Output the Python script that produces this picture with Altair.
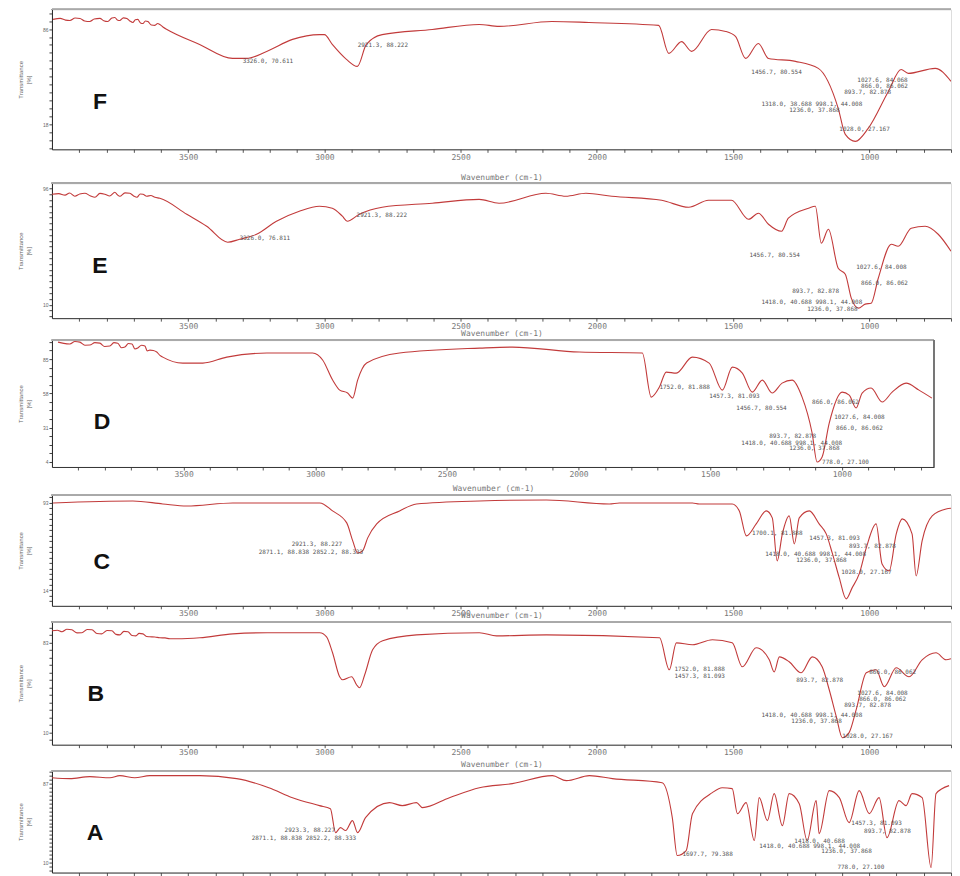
import altair as alt
import pandas as pd

# ---------------- data (wavenumber cm-1, transmittance) ----------------
F_w = [3996, 3970, 3950, 3934, 3915, 3897, 3880, 3861, 3845, 3824, 3810, 3795, 3780, 3769, 3760, 3751, 3738, 3725, 3714, 3703, 3694, 3685, 3675, 3666, 3657, 3648, 3635, 3622, 3612, 3604, 3590, 3578, 3458, 3337, 3286, 3212, 3117, 3018, 3000, 2971, 2919, 2879, 2846, 2788, 2604, 2432, 2359, 2165, 2029, 1773, 1736, 1689, 1652, 1579, 1527, 1491, 1454, 1407, 1370, 1271, 1187, 1114, 1088, 1051, 1004, 930, 883, 857, 758, 700]
F_t = [92.9, 93.6, 92.4, 92.1, 93.9, 93.6, 91.8, 91.4, 93.2, 93.6, 92.0, 91.4, 93.9, 94.3, 92.5, 92.1, 94.0, 93.6, 91.8, 90.7, 92.6, 92.9, 90.4, 90.0, 91.8, 91.4, 88.9, 88.6, 90.0, 89.3, 87.1, 85.7, 75.0, 65.0, 65.0, 70.0, 78.6, 82.0, 82.0, 75.0, 64.3, 59.3, 75.0, 82.0, 85.7, 89.3, 87.9, 91.4, 90.7, 88.6, 68.6, 77.0, 70.0, 85.7, 84.3, 80.7, 65.0, 75.7, 65.0, 62.9, 57.9, 29.3, 10.7, 5.7, 15.0, 41.4, 57.1, 54.3, 57.9, 48.6]

E_w = [4000, 3975, 3952, 3935, 3916, 3898, 3879, 3860, 3842, 3824, 3806, 3788, 3769, 3760, 3751, 3732, 3714, 3700, 3688, 3676, 3666, 3652, 3637, 3622, 3604, 3505, 3432, 3355, 3311, 3249, 3176, 3092, 3018, 2971, 2934, 2916, 2872, 2788, 2604, 2432, 2359, 2187, 2114, 2040, 1945, 1762, 1663, 1590, 1506, 1443, 1407, 1370, 1322, 1297, 1223, 1198, 1176, 1150, 1114, 1088, 1066, 1040, 1015, 993, 967, 919, 894, 846, 795, 747, 700]
E_t = [91.9, 92.3, 91.2, 92.8, 90.4, 92.0, 92.6, 90.8, 89.6, 92.5, 91.9, 90.6, 93.3, 91.5, 90.4, 92.9, 92.6, 90.6, 89.6, 92.1, 91.9, 90.4, 90.9, 89.6, 88.9, 77.0, 68.1, 56.3, 58.5, 62.2, 71.9, 79.3, 83.0, 81.5, 75.6, 71.9, 77.0, 82.2, 85.2, 88.1, 85.2, 92.6, 90.4, 92.6, 90.4, 87.4, 82.2, 87.4, 87.4, 73.3, 77.8, 69.6, 64.4, 74.1, 81.5, 83.0, 55.6, 65.9, 37.0, 32.6, 14.8, 7.4, 10.4, 11.1, 29.6, 54.8, 53.3, 66.7, 68.1, 62.2, 49.6]

D_w = [3977, 3955, 3932, 3913, 3894, 3875, 3856, 3837, 3818, 3800, 3780, 3765, 3750, 3736, 3723, 3710, 3696, 3685, 3674, 3660, 3647, 3638, 3628, 3615, 3602, 3590, 3579, 3503, 3427, 3336, 3184, 3010, 2972, 2934, 2907, 2877, 2858, 2839, 2805, 2680, 2376, 2251, 1997, 1758, 1724, 1693, 1667, 1629, 1568, 1504, 1454, 1416, 1378, 1340, 1302, 1265, 1227, 1189, 1151, 1113, 1094, 1075, 1048, 999, 972, 946, 923, 889, 847, 809, 756, 707, 658]
D_t = [98.4, 97.4, 97.0, 98.9, 98.4, 96.0, 96.1, 98.0, 97.6, 95.0, 95.3, 98.0, 97.6, 94.0, 94.5, 97.3, 96.9, 93.0, 93.7, 96.0, 95.3, 91.5, 92.1, 91.8, 90.6, 88.0, 86.6, 81.9, 81.9, 86.6, 89.8, 89.8, 84.3, 68.5, 60.6, 58.3, 54.3, 68.5, 81.9, 89.8, 93.7, 94.5, 90.6, 89.8, 55.1, 63.0, 74.8, 74.0, 86.6, 81.9, 60.6, 78.7, 74.0, 59.0, 68.5, 58.3, 66.1, 68.5, 55.1, 26.8, 3.9, 7.9, 34.6, 59.0, 56.7, 46.5, 58.3, 62.2, 51.2, 59.0, 66.1, 60.6, 54.3]

C_w = [3996, 3703, 3593, 3505, 3336, 3017, 2970, 2918, 2896, 2878, 2860, 2841, 2808, 2724, 2662, 2431, 2185, 1954, 1917, 1649, 1624, 1503, 1477, 1451, 1415, 1378, 1356, 1338, 1319, 1294, 1275, 1257, 1220, 1184, 1158, 1136, 1110, 1085, 1063, 1037, 1011, 975, 953, 927, 901, 879, 843, 828, 806, 769, 718, 700]
C_t = [92.8, 94.6, 91.9, 90.1, 92.8, 92.8, 85.6, 74.8, 58.6, 47.7, 49.5, 61.3, 73.9, 85.6, 91.9, 94.6, 95.5, 91.9, 92.8, 92.8, 91.9, 91.9, 85.6, 63.1, 73.9, 85.6, 79.3, 40.5, 64.9, 81.1, 55.9, 79.3, 85.6, 73.9, 64.9, 47.7, 25.2, 6.3, 16.2, 28.8, 52.3, 73.9, 37.8, 31.5, 64.9, 78.4, 64.9, 27.0, 58.6, 81.1, 87.4, 88.0]

B_w = [4000, 3980, 3963, 3945, 3927, 3908, 3890, 3871, 3853, 3835, 3817, 3798, 3780, 3765, 3751, 3736, 3721, 3706, 3692, 3680, 3666, 3653, 3641, 3622, 3604, 3585, 3567, 3542, 3457, 3336, 3210, 3017, 2992, 2970, 2944, 2933, 2900, 2882, 2871, 2852, 2823, 2786, 2662, 2431, 2368, 2185, 1770, 1734, 1708, 1649, 1576, 1503, 1466, 1415, 1367, 1349, 1330, 1294, 1250, 1209, 1173, 1147, 1121, 1099, 1074, 1048, 1011, 975, 945, 901, 854, 806, 755, 718, 700]
B_t = [92.7, 93.2, 91.9, 93.9, 93.5, 91.0, 91.1, 93.8, 93.5, 90.5, 90.2, 92.9, 92.7, 89.8, 89.4, 92.2, 91.9, 88.9, 88.6, 90.6, 90.2, 88.0, 87.8, 87.6, 87.0, 86.9, 86.2, 86.2, 87.0, 90.2, 91.1, 91.1, 87.8, 74.8, 55.3, 52.8, 55.3, 48.8, 46.3, 56.9, 77.2, 84.6, 89.4, 91.1, 88.6, 89.4, 87.0, 61.0, 82.9, 81.3, 85.4, 82.9, 63.4, 78.9, 69.1, 59.3, 71.5, 67.5, 58.5, 71.5, 63.4, 44.7, 22.8, 5.7, 9.8, 28.5, 58.5, 61.0, 47.2, 62.6, 55.3, 69.1, 74.8, 69.1, 70.0]

A_w = [4000, 3934, 3861, 3787, 3751, 3696, 3641, 3457, 3322, 3204, 3117, 3018, 2978, 2959, 2941, 2922, 2897, 2878, 2849, 2761, 2714, 2662, 2640, 2541, 2431, 2310, 2163, 2112, 2027, 1943, 1760, 1723, 1705, 1672, 1649, 1576, 1540, 1503, 1484, 1452, 1422, 1404, 1374, 1349, 1319, 1294, 1257, 1228, 1195, 1184, 1147, 1110, 1074, 1037, 1000, 964, 935, 891, 865, 843, 806, 773, 755, 707]
A_t = [93.1, 92.2, 94.1, 93.1, 95.1, 93.1, 95.1, 95.1, 92.2, 83.3, 73.5, 65.7, 62.7, 39.2, 44.1, 41.2, 51.0, 39.2, 53.9, 68.6, 65.7, 68.6, 63.7, 73.5, 83.3, 87.3, 95.1, 90.2, 95.1, 92.2, 88.2, 53.9, 16.7, 21.6, 57.8, 78.4, 83.3, 82.4, 57.8, 68.6, 31.4, 73.5, 51.0, 77.5, 46.1, 77.5, 67.6, 31.4, 70.6, 38.2, 80.4, 73.5, 49.0, 80.4, 57.8, 73.5, 34.3, 70.6, 65.7, 77.5, 73.5, 4.9, 77.5, 85.3]

# peak annotations: position (wavenumber, transmittance) and text
F_ann_w = [3300, 2878, 1433, 1044, 1030, 1092, 1396, 1294, 1110]
F_ann_t = [62.9, 74.3, 55.0, 49.3, 45.0, 40.7, 32.1, 27.9, 14.3]
F_ann_s = ["3326.0, 70.611", "2921.3, 88.222", "1456.7, 80.554", "1027.6, 84.068", "866.0, 86.062", "893.7, 82.878", "1318.0, 38.688  998.1, 44.008", "1236.0, 37.868", "1028.0, 27.167"]

E_ann_w = [3311, 2882, 1440, 1048, 1030, 1283, 1396, 1228]
E_ann_t = [59.3, 76.3, 46.7, 37.8, 25.9, 20.0, 11.9, 6.7]
E_ann_s = ["3326.0, 76.811", "2921.3, 88.222", "1456.7, 80.554", "1027.6, 84.008", "866.0, 86.062", "893.7, 82.878", "1418.0, 40.688  998.1, 44.008", "1236.0, 37.868"]

D_ann_w = [1693, 1504, 1401, 1113, 1029, 1022, 1276, 1382, 1200, 1075]
D_ann_t = [63.0, 55.9, 46.5, 51.2, 39.4, 30.7, 24.4, 18.9, 15.0, 3.9]
D_ann_s = ["1752.0, 81.888", "1457.3, 81.093", "1456.7, 80.554", "866.0, 86.062", "1027.6, 84.008", "866.0, 86.062", "893.7, 82.878", "1418.0, 40.688  998.1, 44.008", "1236.0, 37.868", "778.0, 27.100"]

C_ann_w = [3120, 3241, 1430, 1220, 1074, 1382, 1268, 1103]
C_ann_t = [55.9, 48.6, 65.8, 61.3, 54.0, 46.8, 41.4, 30.6]
C_ann_s = ["2921.3, 88.227", "2871.1, 88.838 2852.2, 88.333", "1700.1, 81.888", "1457.3, 81.093", "893.7, 82.878", "1418.0, 40.688  998.1, 44.008", "1236.0, 37.868", "1028.0, 27.167"]

B_ann_w = [1715, 1715, 1268, 1000, 1044, 1037, 1092, 1396, 1286, 1099]
B_ann_t = [61.8, 56.1, 52.8, 59.3, 42.3, 37.4, 32.5, 24.4, 19.5, 7.3]
B_ann_s = ["1752.0, 81.888", "1457.3, 81.093", "893.7, 82.878", "866.0, 86.062", "1027.6, 84.008", "866.0, 86.062", "893.7, 82.878", "1418.0, 40.688  998.1, 44.008", "1236.0, 37.868", "1028.0, 27.167"]

A_ann_w = [3146, 3267, 1686, 1066, 1019, 1275, 1404, 1176, 1117]
A_ann_t = [42.2, 34.3, 18.6, 49.0, 41.2, 31.4, 26.5, 21.6, 5.9]
A_ann_s = ["2923.3, 88.227", "2871.1, 88.838 2852.2, 88.333", "1697.7, 79.388", "1457.3, 81.093", "893.7, 82.878", "1418.0, 40.688", "1418.0, 40.688  998.1, 44.008", "1236.0, 37.868", "778.0, 27.100"]

# panel letters and their positions
letters = ["F", "E", "D", "C", "B", "A"]
letter_w = [3824, 3824, 3810, 3817, 3839, 3842]
letter_t = [34.0, 38.5, 35.4, 39.6, 41.5, 39.2]

# y-axis labelled tick values
F_yt = [18, 40, 64, 86]
E_yt = [10, 27, 44, 62, 79, 96]
D_yt = [4, 31, 58, 85]
C_yt = [14, 33, 52, 74, 93]
B_yt = [10, 34, 59, 83]
A_yt = [10, 25, 40, 55, 72, 87]

LINE = "#c23b3b"


def all_ticks(major):
    out = []
    step = (major[-1] - major[0]) / (len(major) - 1)
    v = major[0]
    while v - step / 4 >= 0:
        v -= step / 4
    while v <= 100:
        out.append(round(v, 2))
        v += step / 4
    return out


def panel(name, w, t, aw, at, a_s, yt, height, width, xmin, title_pad, right_border, li):
    xs = alt.Scale(domain=[xmin, 4000], reverse=True, nice=False, zero=False)
    ys = alt.Scale(domain=[0, 100], nice=False, zero=False)
    xticks = list(range(3900, xmin - 1, -100))
    x_enc = alt.X(
        "w:Q", scale=xs, title="Wavenumber (cm-1)",
        axis=alt.Axis(
            values=xticks,
            labelExpr="datum.value % 500 === 0 ? datum.label : ''",
            format="d", grid=False, tickSize=3, tickColor="#555",
            domainColor="#333", labelFont="DejaVu Sans Mono", labelFontSize=8,
            labelColor="#777", labelPadding=1, titleFont="DejaVu Sans Mono",
            titleFontSize=8, titleFontWeight="normal", titleColor="#777",
            titlePadding=title_pad, labelFlush=False,
        ),
    )
    ylabels = "[" + ",".join(str(v) for v in yt) + "]"
    y_enc = alt.Y(
        "t:Q", scale=ys, title=["Transmittance", "[%]"],
        axis=alt.Axis(
            values=all_ticks(yt),
            labelExpr="indexof(" + ylabels + ", datum.value) >= 0 ? datum.label : ''",
            grid=False, tickSize=3, tickColor="#444", domainColor="#222",
            labelFontSize=5, labelColor="#666", labelPadding=1,
            titleFontSize=6, titleFontWeight="normal", titleColor="#666",
            titlePadding=6, minExtent=14, maxExtent=14, labelFlush=False,
        ),
    )
    df = pd.DataFrame({"w": w, "t": t})
    line = alt.Chart(df).mark_line(
        color=LINE, strokeWidth=1.1, clip=True, interpolate="monotone"
    ).encode(x=x_enc, y=y_enc)
    adf = pd.DataFrame({"w": aw, "t": at, "s": a_s})
    ann = alt.Chart(adf).mark_text(
        font="DejaVu Sans Mono", fontSize=6, color="#555", align="left", baseline="middle"
    ).encode(x=x_enc, y=y_enc, text="s:N")
    ldf = pd.DataFrame({"w": [letter_w[li]], "t": [letter_t[li]], "s": [name]})
    let = alt.Chart(ldf).mark_text(
        font="Liberation Sans", fontSize=23, fontWeight="bold", color="#111",
        align="center", baseline="middle"
    ).encode(x=x_enc, y=y_enc, text="s:N")
    top = alt.Chart(df).mark_rule(color="#aaa", strokeWidth=1).encode(
        x=alt.value(0), x2=alt.value(width), y=alt.value(0)
    )
    layers = [top, line, ann, let]
    if right_border:
        rb = alt.Chart(df).mark_rule(color="#777", strokeWidth=1.5).encode(
            x=alt.value(width), y=alt.value(0), y2=alt.value(height)
        )
        layers.append(rb)
    return alt.layer(*layers).properties(width=width, height=height)


pF = panel("F", F_w, F_t, F_ann_w, F_ann_t, F_ann_s, F_yt, 140, 900, 700, 12, False, 0)
pE = panel("E", E_w, E_t, E_ann_w, E_ann_t, E_ann_s, E_yt, 135, 900, 700, -1, False, 1)
pD = panel("D", D_w, D_t, D_ann_w, D_ann_t, D_ann_s, D_yt, 127, 883, 650, 6, True, 2)
pC = panel("C", C_w, C_t, C_ann_w, C_ann_t, C_ann_s, C_yt, 111, 900, 700, -6, False, 3)
pB = panel("B", B_w, B_t, B_ann_w, B_ann_t, B_ann_s, B_yt, 123, 900, 700, 4, False, 4)
pA = panel("A", A_w, A_t, A_ann_w, A_ann_t, A_ann_s, A_yt, 102, 900, 700, 2, False, 5)

chart = alt.vconcat(pF, pE, pD, pC, pB, pA, spacing=0).properties(
    padding={"left": 9, "top": 0, "right": 0, "bottom": 0}
).configure_view(stroke=None).configure(background="white")

chart.save("out.html", embed_options={"renderer": "svg", "actions": False})
